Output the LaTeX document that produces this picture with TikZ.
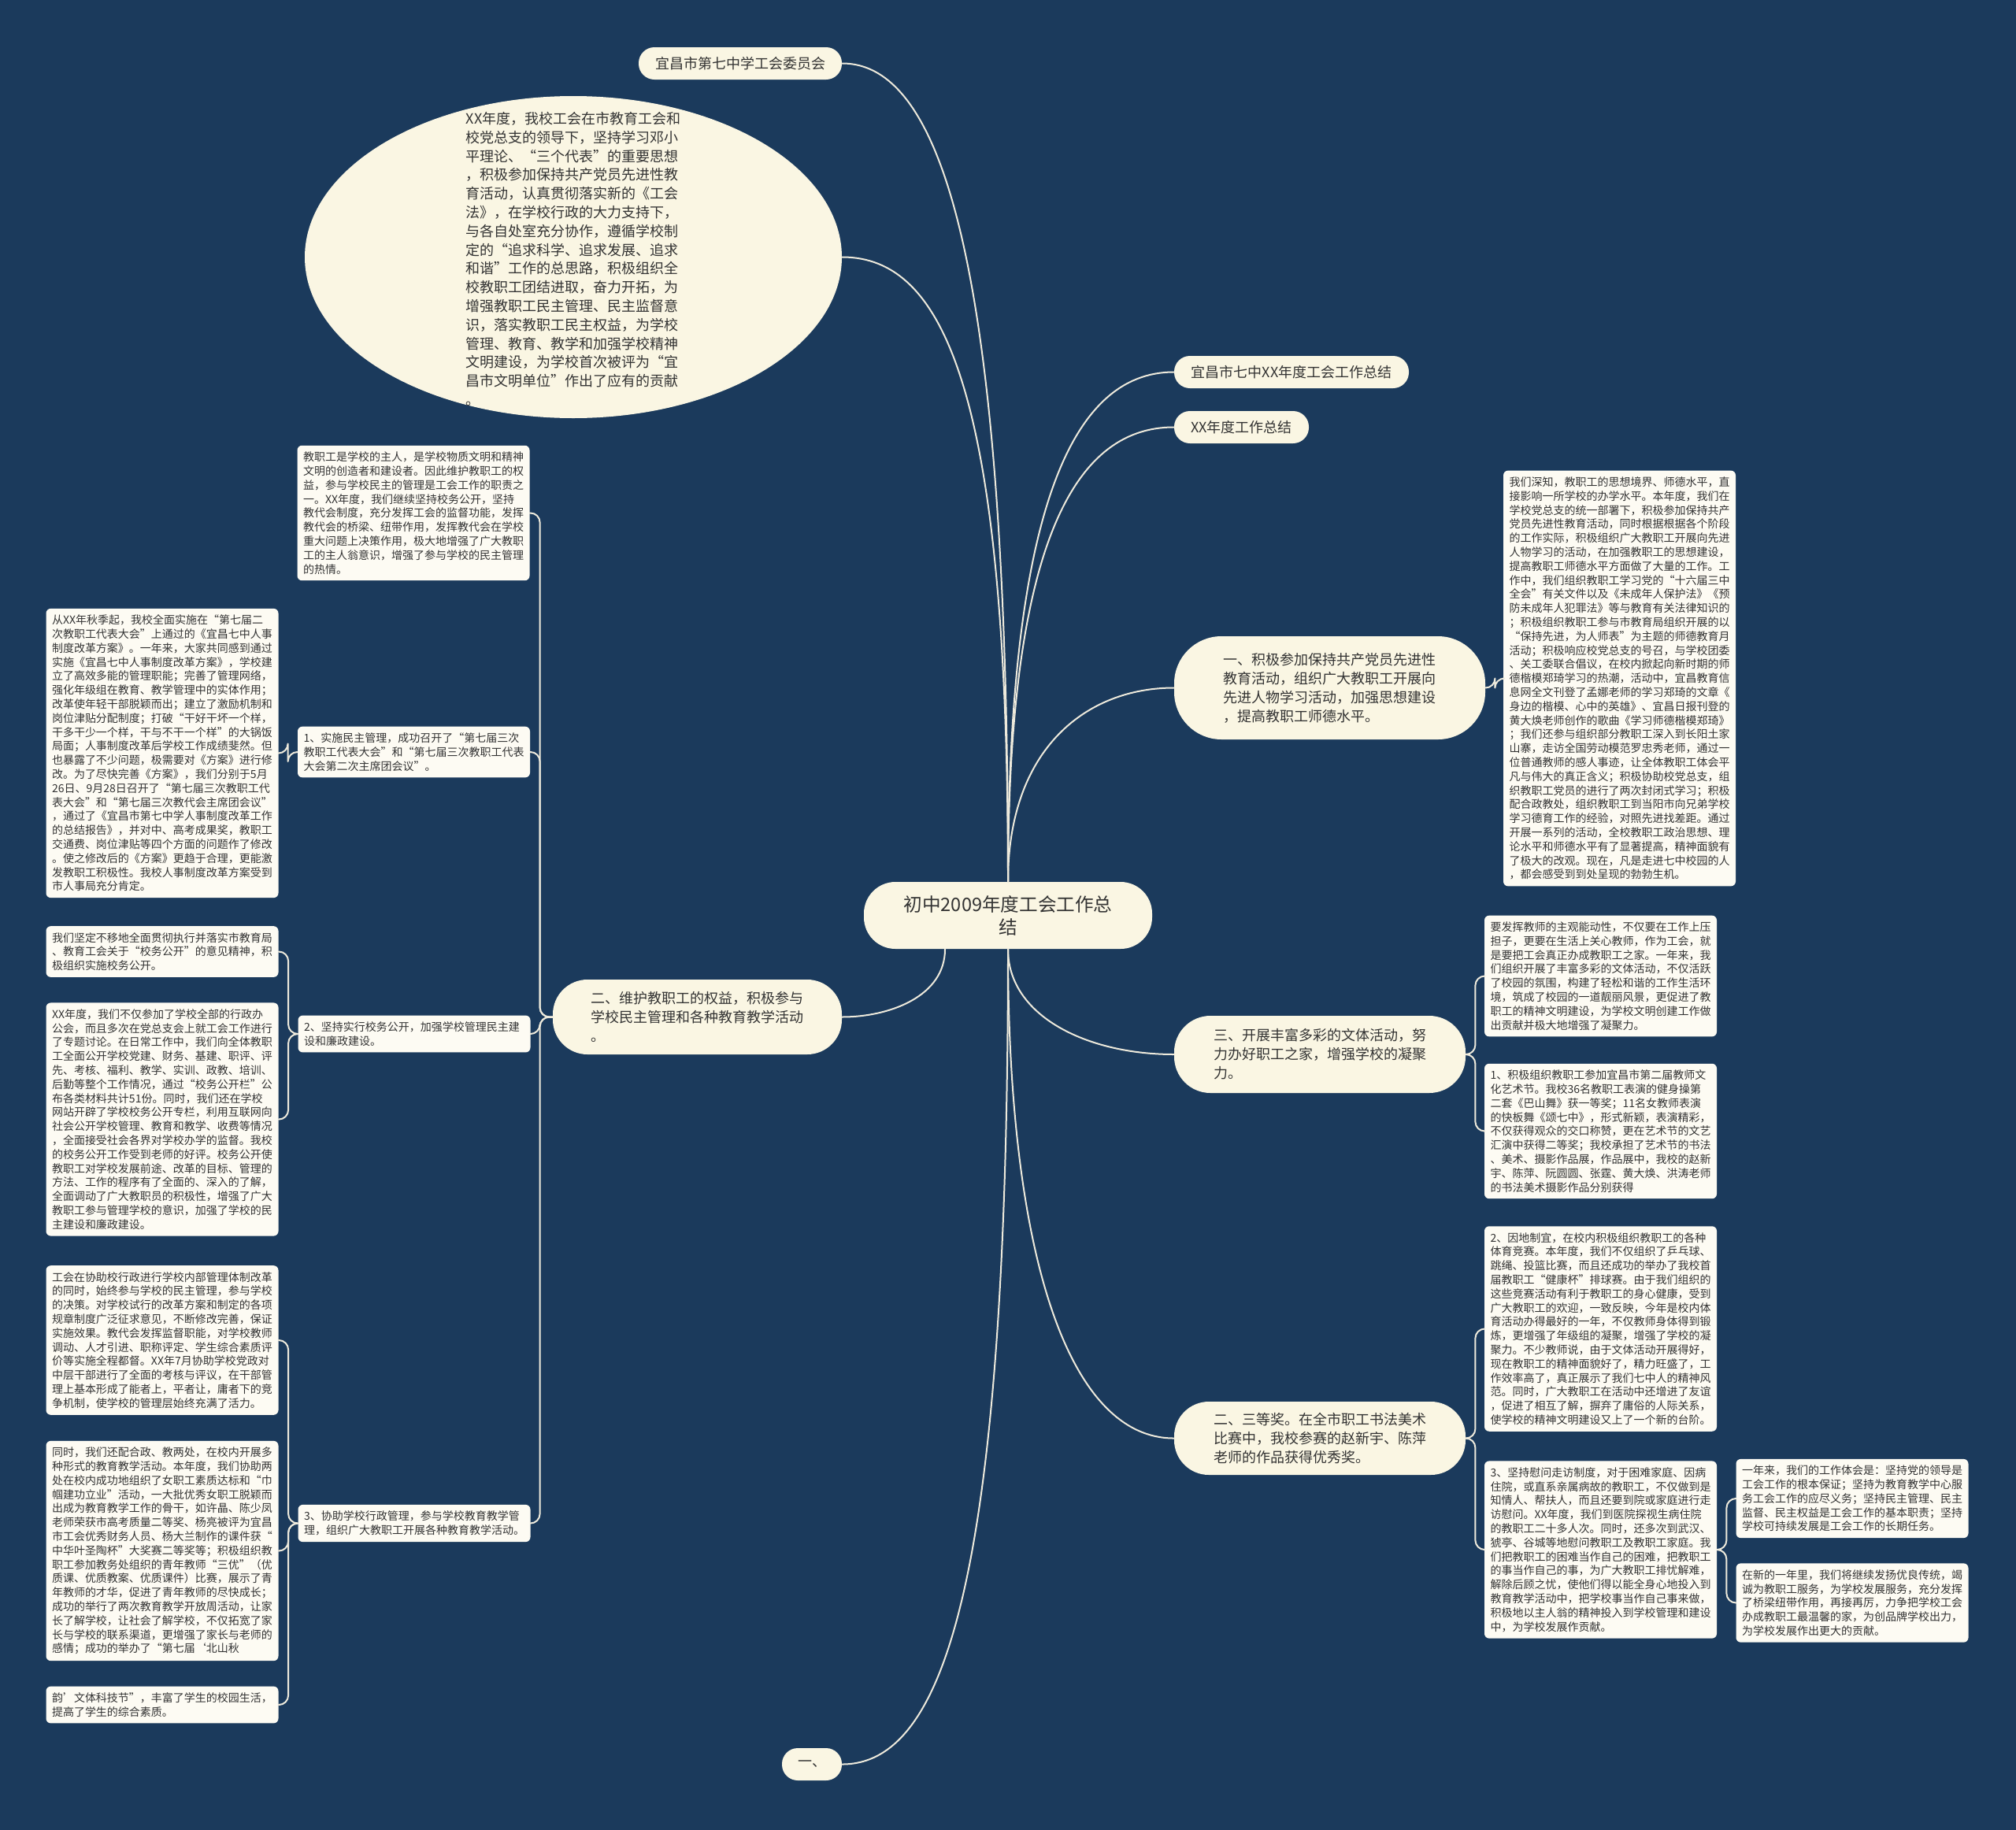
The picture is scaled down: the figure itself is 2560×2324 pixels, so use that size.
\documentclass[tikz,border=0pt]{standalone}
\usepackage{fontspec}
\setmainfont{Noto Sans CJK SC}
\usetikzlibrary{shapes.geometric}

\definecolor{navy}{RGB}{27,58,92}
\definecolor{cream}{RGB}{250,246,227}
\definecolor{paper}{RGB}{253,251,243}
\definecolor{ink}{RGB}{51,51,51}
\definecolor{wire}{RGB}{238,234,220}

\begin{document}
\begin{tikzpicture}[x=0.5pt,y=-0.5pt,line cap=round,line join=round,
  rootnode/.style={fill=cream,rounded corners=20pt,text=ink,font=\fontsize{11.8}{14.5}\selectfont,
    align=center,minimum width=183pt,minimum height=42.5pt,inner sep=0pt},
  topic/.style={fill=cream,rounded corners=10pt,text=ink,font=\fontsize{9}{12}\selectfont,
    align=left,inner sep=0pt,minimum height=20.5pt},
  infobox/.style={fill=paper,rounded corners=3pt,text=ink,font=\fontsize{7}{8.9}\selectfont,
    align=left,text width=140pt,inner xsep=3.75pt,inner ysep=4pt},
  link/.style={draw=wire,line width=1pt},
  bracket/.style={link,rounded corners=6pt}]

  \useasboundingbox (0,0) rectangle (2560,2324);
  \fill[navy] (0,0) rectangle (2560,2324);

  % root and main topics
  \node[rootnode] (root) at (1280,1162.5) {初中2009年度工会工作总\\结};

  \node[topic,minimum width=129pt] (committee) at (940,80.5) {宜昌市第七中学工会委员会};
  \node[ellipse,fill=cream,minimum width=341pt,minimum height=204.5pt,inner sep=0pt] (intro) at (728,326.5) {};
  \node[text=ink,font=\fontsize{9}{11.9}\selectfont,align=left,inner sep=0pt] (introtext) at (728,329) {%
    XX年度，我校工会在市教育工会和\\
    校党总支的领导下，坚持学习邓小\\
    平理论、“三个代表”的重要思想\\
    ，积极参加保持共产党员先进性教\\
    育活动，认真贯彻落实新的《工会\\
    法》，在学校行政的大力支持下，\\
    与各自处室充分协作，遵循学校制\\
    定的“追求科学、追求发展、追求\\
    和谐”工作的总思路，积极组织全\\
    校教职工团结进取，奋力开拓，为\\
    增强教职工民主管理、民主监督意\\
    识，落实教职工民主权益，为学校\\
    管理、教育、教学和加强学校精神\\
    文明建设，为学校首次被评为“宜\\
    昌市文明单位”作出了应有的贡献\\
    。};
  \node[topic,minimum width=149pt] (title) at (1640,472.5) {宜昌市七中XX年度工会工作总结};
  \node[topic,minimum width=85.5pt] (summary) at (1576.5,542.5) {XX年度工作总结};
  \node[topic,minimum width=197.5pt,minimum height=65.5pt,rounded corners=30pt] (partyedu) at (1688.5,873.5) {%
    一、积极参加保持共产党员先进性\\
    教育活动，组织广大教职工开展向\\
    先进人物学习活动，加强思想建设\\
    ，提高教职工师德水平。};
  \node[topic,minimum width=183.5pt,minimum height=47.5pt,rounded corners=22pt] (rights) at (885.5,1291.5) {%
    二、维护教职工的权益，积极参与\\
    学校民主管理和各种教育教学活动\\
    。};
  \node[topic,minimum width=185pt,minimum height=49pt,rounded corners=23pt] (culture) at (1676,1339) {%
    三、开展丰富多彩的文体活动，努\\
    力办好职工之家，增强学校的凝聚\\
    力。};
  \node[topic,minimum width=185pt,minimum height=46.5pt,rounded corners=22pt] (award) at (1676,1826.5) {%
    二、三等奖。在全市职工书法美术\\
    比赛中，我校参赛的赵新宇、陈萍\\
    老师的作品获得优秀奖。};
  \node[topic,minimum width=38pt] (one) at (1031,2240.5) {一、};

  % left branch
  \node[infobox] (rightsintro) at (525,651.5) {%
    教职工是学校的主人，是学校物质文明和精神\\
    文明的创造者和建设者。因此维护教职工的权\\
    益，参与学校民主的管理是工会工作的职责之\\
    一。XX年度，我们继续坚持校务公开，坚持\\
    教代会制度，充分发挥工会的监督功能，发挥\\
    教代会的桥梁、纽带作用，发挥教代会在学校\\
    重大问题上决策作用，极大地增强了广大教职\\
    工的主人翁意识，增强了参与学校的民主管理\\
    的热情。};
  \node[infobox] (democracy) at (525.5,955) {%
    1、实施民主管理，成功召开了“第七届三次\\
    教职工代表大会”和“第七届三次教职工代表\\
    大会第二次主席团会议”。};
  \node[infobox] (reform) at (206,956.5) {%
    从XX年秋季起，我校全面实施在“第七届二\\
    次教职工代表大会”上通过的《宜昌七中人事\\
    制度改革方案》。一年来，大家共同感到通过\\
    实施《宜昌七中人事制度改革方案》，学校建\\
    立了高效多能的管理职能；完善了管理网络，\\
    强化年级组在教育、教学管理中的实体作用；\\
    改革使年轻干部脱颖而出；建立了激励机制和\\
    岗位津贴分配制度；打破“干好干坏一个样，\\
    干多干少一个样，干与不干一个样”的大锅饭\\
    局面；人事制度改革后学校工作成绩斐然。但\\
    也暴露了不少问题，极需要对《方案》进行修\\
    改。为了尽快完善《方案》，我们分别于5月\\
    26日、9月28日召开了“第七届三次教职工代\\
    表大会”和“第七届三次教代会主席团会议”\\
    ，通过了《宜昌市第七中学人事制度改革工作\\
    的总结报告》，并对中、高考成果奖，教职工\\
    交通费、岗位津贴等四个方面的问题作了修改\\
    。使之修改后的《方案》更趋于合理，更能激\\
    发教职工积极性。我校人事制度改革方案受到\\
    市人事局充分肯定。};
  \node[infobox] (openness) at (526,1313) {%
    2、坚持实行校务公开，加强学校管理民主建\\
    设和廉政建设。};
  \node[infobox] (opencommit) at (206,1208.5) {%
    我们坚定不移地全面贯彻执行并落实市教育局\\
    、教育工会关于“校务公开”的意见精神，积\\
    极组织实施校务公开。};
  \node[infobox] (opendetail) at (206,1421.5) {%
    XX年度，我们不仅参加了学校全部的行政办\\
    公会，而且多次在党总支会上就工会工作进行\\
    了专题讨论。在日常工作中，我们向全体教职\\
    工全面公开学校党建、财务、基建、职评、评\\
    先、考核、福利、教学、实训、政教、培训、\\
    后勤等整个工作情况，通过“校务公开栏”公\\
    布各类材料共计51份。同时，我们还在学校\\
    网站开辟了学校校务公开专栏，利用互联网向\\
    社会公开学校管理、教育和教学、收费等情况\\
    ，全面接受社会各界对学校办学的监督。我校\\
    的校务公开工作受到老师的好评。校务公开使\\
    教职工对学校发展前途、改革的目标、管理的\\
    方法、工作的程序有了全面的、深入的了解，\\
    全面调动了广大教职员的积极性，增强了广大\\
    教职工参与管理学校的意识，加强了学校的民\\
    主建设和廉政建设。};
  \node[infobox] (assist) at (526,1934.5) {%
    3、协助学校行政管理，参与学校教育教学管\\
    理，组织广大教职工开展各种教育教学活动。};
  \node[infobox] (assistmgmt) at (206,1702) {%
    工会在协助校行政进行学校内部管理体制改革\\
    的同时，始终参与学校的民主管理，参与学校\\
    的决策。对学校试行的改革方案和制定的各项\\
    规章制度广泛征求意见，不断修改完善，保证\\
    实施效果。教代会发挥监督职能，对学校教师\\
    调动、人才引进、职称评定、学生综合素质评\\
    价等实施全程都督。XX年7月协助学校党政对\\
    中层干部进行了全面的考核与评议，在干部管\\
    理上基本形成了能者上，平者让，庸者下的竞\\
    争机制，使学校的管理层始终充满了活力。};
  \node[infobox] (assistteach) at (206,1969.5) {%
    同时，我们还配合政、教两处，在校内开展多\\
    种形式的教育教学活动。本年度，我们协助两\\
    处在校内成功地组织了女职工素质达标和“巾\\
    帼建功立业”活动，一大批优秀女职工脱颖而\\
    出成为教育教学工作的骨干，如许晶、陈少凤\\
    老师荣获市高考质量二等奖、杨亮被评为宜昌\\
    市工会优秀财务人员、杨大兰制作的课件获“\\
    中华叶圣陶杯”大奖赛二等奖等；积极组织教\\
    职工参加教务处组织的青年教师“三优”（优\\
    质课、优质教案、优质课件）比赛，展示了青\\
    年教师的才华，促进了青年教师的尽快成长；\\
    成功的举行了两次教育教学开放周活动，让家\\
    长了解学校，让社会了解学校，不仅拓宽了家\\
    长与学校的联系渠道，更增强了家长与老师的\\
    感情；成功的举办了“第七届‘北山秋};
  \node[infobox] (assistfest) at (206,2165) {%
    韵’文体科技节”，丰富了学生的校园生活，\\
    提高了学生的综合素质。};

  % right branches
  \node[infobox] (partydetail) at (2056.5,861.5) {%
    我们深知，教职工的思想境界、师德水平，直\\
    接影响一所学校的办学水平。本年度，我们在\\
    学校党总支的统一部署下，积极参加保持共产\\
    党员先进性教育活动，同时根据根据各个阶段\\
    的工作实际，积极组织广大教职工开展向先进\\
    人物学习的活动，在加强教职工的思想建设，\\
    提高教职工师德水平方面做了大量的工作。工\\
    作中，我们组织教职工学习党的“十六届三中\\
    全会”有关文件以及《未成年人保护法》《预\\
    防未成年人犯罪法》等与教育有关法律知识的\\
    ；积极组织教职工参与市教育局组织开展的以\\
    “保持先进，为人师表”为主题的师德教育月\\
    活动；积极响应校党总支的号召，与学校团委\\
    、关工委联合倡议，在校内掀起向新时期的师\\
    德楷模郑琦学习的热潮，活动中，宜昌教育信\\
    息网全文刊登了孟娜老师的学习郑琦的文章《\\
    身边的楷模、心中的英雄》、宜昌日报刊登的\\
    黄大焕老师创作的歌曲《学习师德楷模郑琦》\\
    ；我们还参与组织部分教职工深入到长阳土家\\
    山寨，走访全国劳动模范罗忠秀老师，通过一\\
    位普通教师的感人事迹，让全体教职工体会平\\
    凡与伟大的真正含义；积极协助校党总支，组\\
    织教职工党员的进行了两次封闭式学习；积极\\
    配合政教处，组织教职工到当阳市向兄弟学校\\
    学习德育工作的经验，对照先进找差距。通过\\
    开展一系列的活动，全校教职工政治思想、理\\
    论水平和师德水平有了显著提高，精神面貌有\\
    了极大的改观。现在，凡是走进七中校园的人\\
    ，都会感受到到处呈现的勃勃生机。};
  \node[infobox] (cultureintro) at (2032.5,1239.5) {%
    要发挥教师的主观能动性，不仅要在工作上压\\
    担子，更要在生活上关心教师，作为工会，就\\
    是要把工会真正办成教职工之家。一年来，我\\
    们组织开展了丰富多彩的文体活动，不仅活跃\\
    了校园的氛围，构建了轻松和谐的工作生活环\\
    境，筑成了校园的一道靓丽风景，更促进了教\\
    职工的精神文明建设，为学校文明创建工作做\\
    出贡献并极大地增强了凝聚力。};
  \node[infobox] (artfest) at (2032.5,1436.5) {%
    1、积极组织教职工参加宜昌市第二届教师文\\
    化艺术节。我校36名教职工表演的健身操第\\
    二套《巴山舞》获一等奖；11名女教师表演\\
    的快板舞《颂七中》，形式新颖，表演精彩，\\
    不仅获得观众的交口称赞，更在艺术节的文艺\\
    汇演中获得二等奖；我校承担了艺术节的书法\\
    、美术、摄影作品展，作品展中，我校的赵新\\
    宇、陈萍、阮圆圆、张霆、黄大焕、洪涛老师\\
    的书法美术摄影作品分别获得};
  \node[infobox] (sports) at (2032.5,1687.5) {%
    2、因地制宜，在校内积极组织教职工的各种\\
    体育竞赛。本年度，我们不仅组织了乒乓球、\\
    跳绳、投篮比赛，而且还成功的举办了我校首\\
    届教职工“健康杯”排球赛。由于我们组织的\\
    这些竞赛活动有利于教职工的身心健康，受到\\
    广大教职工的欢迎，一致反映，今年是校内体\\
    育活动办得最好的一年，不仅教师身体得到锻\\
    炼，更增强了年级组的凝聚，增强了学校的凝\\
    聚力。不少教师说，由于文体活动开展得好，\\
    现在教职工的精神面貌好了，精力旺盛了，工\\
    作效率高了，真正展示了我们七中人的精神风\\
    范。同时，广大教职工在活动中还增进了友谊\\
    ，促进了相互了解，摒弃了庸俗的人际关系，\\
    使学校的精神文明建设又上了一个新的台阶。};
  \node[infobox] (visits) at (2032.5,1968) {%
    3、坚持慰问走访制度，对于困难家庭、因病\\
    住院，或直系亲属病故的教职工，不仅做到是\\
    知情人、帮扶人，而且还要到院或家庭进行走\\
    访慰问。XX年度，我们到医院探视生病住院\\
    的教职工二十多人次。同时，还多次到武汉、\\
    猇亭、谷城等地慰问教职工及教职工家庭。我\\
    们把教职工的困难当作自己的困难，把教职工\\
    的事当作自己的事，为广大教职工排忧解难，\\
    解除后顾之忧，使他们得以能全身心地投入到\\
    教育教学活动中，把学校事当作自己事来做，\\
    积极地以主人翁的精神投入到学校管理和建设\\
    中，为学校发展作贡献。};
  \node[infobox] (lessons) at (2352,1903) {%
    一年来，我们的工作体会是：坚持党的领导是\\
    工会工作的根本保证；坚持为教育教学中心服\\
    务工会工作的应尽义务；坚持民主管理、民主\\
    监督、民主权益是工会工作的基本职责；坚持\\
    学校可持续发展是工会工作的长期任务。};
  \node[infobox] (newyear) at (2352,2035.5) {%
    在新的一年里，我们将继续发扬优良传统，竭\\
    诚为教职工服务，为学校发展服务，充分发挥\\
    了桥梁纽带作用，再接再厉，力争把学校工会\\
    办成教职工最温馨的家，为创品牌学校出力，\\
    为学校发展作出更大的贡献。};

  % curves from the root
  \draw[link] (root.north) .. controls +(0,-770) and +(130,0) .. (committee.east);
  \draw[link] (root.north) .. controls +(0,-620) and +(130,0) .. (intro.east);
  \draw[link] (root.north) .. controls +(0,-470) and +(-130,0) .. (title.west);
  \draw[link] (root.north) .. controls +(0,-420) and +(-130,0) .. (summary.west);
  \draw[link] (root.north) .. controls +(0,-170) and +(-110,0) .. (partyedu.west);
  \draw[link] ([xshift=-40pt]root.south) .. controls +(0,60) and +(60,0) .. (rights.east);
  \draw[link] (root.south) .. controls +(0,85) and +(-110,0) .. (culture.west);
  \draw[link] (root.south) .. controls +(0,400) and +(-130,0) .. (award.west);
  \draw[link] (root.south) .. controls +(0,800) and +(130,0) .. (one.east);

  % brackets to the text boxes
  \draw[bracket] (rights.west) -- ++(-16,0) |- (rightsintro.east);
  \draw[bracket] (rights.west) -- ++(-16,0) |- (democracy.east);
  \draw[bracket] (rights.west) -- ++(-16,0) |- (openness.east);
  \draw[bracket] (rights.west) -- ++(-16,0) |- (assist.east);
  \draw[bracket] (democracy.west) -- ++(-12,0) |- (reform.east);
  \draw[bracket] (openness.west) -- ++(-12,0) |- (opencommit.east);
  \draw[bracket] (openness.west) -- ++(-12,0) |- (opendetail.east);
  \draw[bracket] (assist.west) -- ++(-12,0) |- (assistmgmt.east);
  \draw[bracket] (assist.west) -- ++(-12,0) |- (assistteach.east);
  \draw[bracket] (assist.west) -- ++(-12,0) |- (assistfest.east);
  \draw[bracket] (partyedu.east) -- ++(12,0) |- (partydetail.west);
  \draw[bracket] (culture.east) -- ++(12,0) |- (cultureintro.west);
  \draw[bracket] (culture.east) -- ++(12,0) |- (artfest.west);
  \draw[bracket] (award.east) -- ++(12,0) |- (sports.west);
  \draw[bracket] (award.east) -- ++(12,0) |- (visits.west);
  \draw[bracket] (visits.east) -- ++(12,0) |- (lessons.west);
  \draw[bracket] (visits.east) -- ++(12,0) |- (newyear.west);
\end{tikzpicture}
\end{document}
